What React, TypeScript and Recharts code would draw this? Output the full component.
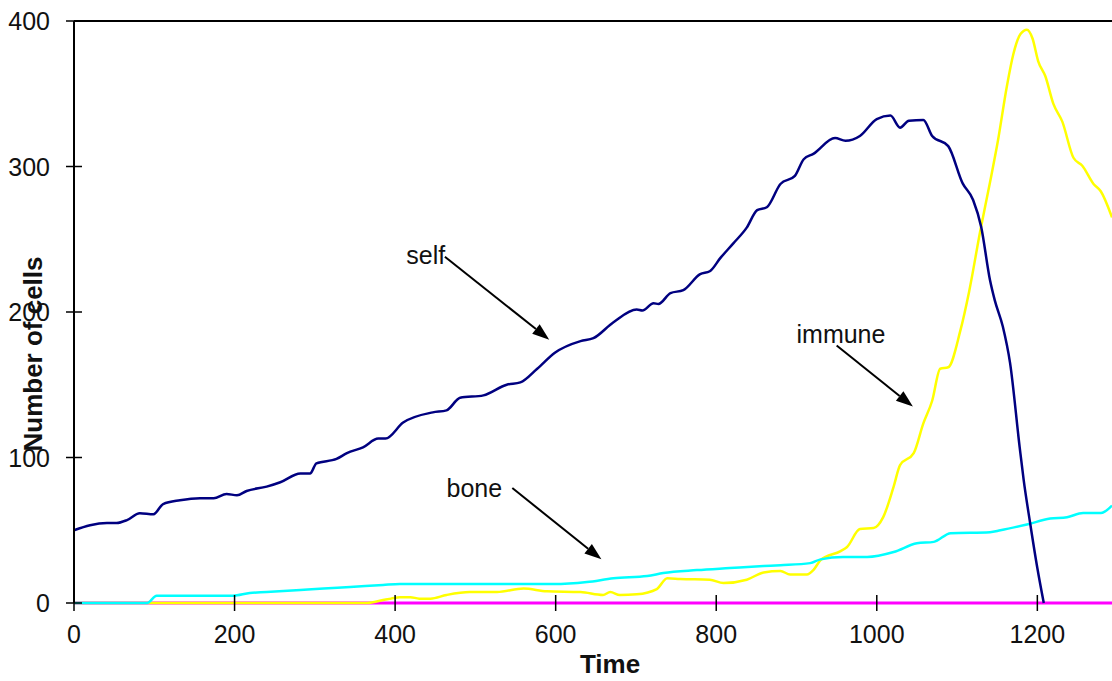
import React from 'react';
import { LineChart, Line, XAxis, YAxis, ReferenceLine, ReferenceDot } from 'recharts';

// axis ticks
const timeTicks = [0, 200, 400, 600, 800, 1000, 1200];
const cellTicks = [0, 100, 200, 300, 400];
const timeMax = 1293;

// series (t = time, v = number of cells)
const selfCells = [
  { t: 0, v: 50 }, { t: 20, v: 53.5 }, { t: 41, v: 55 }, { t: 53, v: 55 }, { t: 66, v: 57 },
  { t: 82, v: 61.7 }, { t: 99, v: 61 }, { t: 111, v: 68 }, { t: 132, v: 70.6 }, { t: 157, v: 72 },
  { t: 174, v: 72 }, { t: 190, v: 75 }, { t: 203, v: 74 }, { t: 215, v: 77 }, { t: 240, v: 80 },
  { t: 257, v: 83 }, { t: 282, v: 89 }, { t: 294, v: 89 }, { t: 302, v: 96 }, { t: 327, v: 99 },
  { t: 340, v: 103 }, { t: 360, v: 107 }, { t: 379, v: 113 }, { t: 388, v: 113 }, { t: 410, v: 124 },
  { t: 447, v: 131 }, { t: 464, v: 132.4 }, { t: 481, v: 141 }, { t: 510, v: 142.7 }, { t: 539, v: 150 },
  { t: 556, v: 151.6 }, { t: 577, v: 161 }, { t: 599, v: 172 }, { t: 631, v: 180 }, { t: 647, v: 182 },
  { t: 672, v: 193 }, { t: 701, v: 201.7 }, { t: 708, v: 201 }, { t: 722, v: 206 }, { t: 728, v: 205.5 },
  { t: 743, v: 213 }, { t: 759, v: 215 }, { t: 780, v: 226 }, { t: 792, v: 228 }, { t: 805, v: 237 },
  { t: 821, v: 247 }, { t: 838, v: 258 }, { t: 851, v: 270 }, { t: 863, v: 272 }, { t: 880, v: 288 },
  { t: 898, v: 293.6 }, { t: 909, v: 305 }, { t: 921, v: 308.7 }, { t: 948, v: 319.6 }, { t: 961, v: 317.7 },
  { t: 979, v: 321 }, { t: 1000, v: 332.6 }, { t: 1017, v: 335 }, { t: 1029, v: 326.7 }, { t: 1040, v: 331.5 },
  { t: 1058, v: 332 }, { t: 1069, v: 321 }, { t: 1089, v: 314 }, { t: 1107, v: 288.4 }, { t: 1120, v: 277 },
  { t: 1130, v: 258.6 }, { t: 1141, v: 222 }, { t: 1147, v: 208 }, { t: 1157, v: 190 }, { t: 1166, v: 165 },
  { t: 1178, v: 107 }, { t: 1183, v: 84.5 }, { t: 1191, v: 55 }, { t: 1200, v: 24 }, { t: 1208, v: 0 },
];

const immuneCells = [
  { t: 0, v: 0 }, { t: 365, v: 0 }, { t: 385, v: 2 }, { t: 395, v: 3 }, { t: 406, v: 4 },
  { t: 419, v: 4 }, { t: 430, v: 3 }, { t: 444, v: 3 }, { t: 464, v: 5.5 }, { t: 493, v: 7.5 },
  { t: 527, v: 7.5 }, { t: 560, v: 10 }, { t: 589, v: 8 }, { t: 631, v: 7.5 }, { t: 659, v: 5.5 },
  { t: 668, v: 7.5 }, { t: 680, v: 5.5 }, { t: 701, v: 6 }, { t: 726, v: 9.6 }, { t: 739, v: 17 },
  { t: 755, v: 16.5 }, { t: 792, v: 16 }, { t: 809, v: 13.7 }, { t: 838, v: 16 }, { t: 859, v: 21 },
  { t: 880, v: 22 }, { t: 892, v: 19.6 }, { t: 913, v: 19.6 }, { t: 921, v: 22.6 }, { t: 930, v: 29.5 },
  { t: 955, v: 35.7 }, { t: 963, v: 38.5 }, { t: 979, v: 50.8 }, { t: 996, v: 51.5 }, { t: 1008, v: 59 },
  { t: 1021, v: 80 }, { t: 1029, v: 94.7 }, { t: 1046, v: 103 }, { t: 1058, v: 123.5 }, { t: 1069, v: 139 },
  { t: 1079, v: 161 }, { t: 1089, v: 162 }, { t: 1104, v: 187 }, { t: 1115, v: 214 }, { t: 1129, v: 256 },
  { t: 1141, v: 289 }, { t: 1151, v: 318 }, { t: 1162, v: 355 }, { t: 1170, v: 377 }, { t: 1179, v: 391 },
  { t: 1187, v: 394 }, { t: 1194, v: 388 }, { t: 1201, v: 372.5 }, { t: 1210, v: 362 }, { t: 1220, v: 343 },
  { t: 1231, v: 331 }, { t: 1245, v: 306 }, { t: 1256, v: 300.5 }, { t: 1270, v: 288 }, { t: 1279, v: 283 },
  { t: 1293, v: 265 },
];

const boneCells = [
  { t: 0, v: 0 }, { t: 91, v: 0 }, { t: 103, v: 5 }, { t: 198, v: 5 }, { t: 219, v: 6.9 },
  { t: 240, v: 7.5 }, { t: 282, v: 9 }, { t: 311, v: 10 }, { t: 344, v: 11 }, { t: 385, v: 12.4 },
  { t: 406, v: 13 }, { t: 597, v: 13 }, { t: 639, v: 14.4 }, { t: 672, v: 17 }, { t: 714, v: 18.5 },
  { t: 734, v: 20.6 }, { t: 776, v: 22.6 }, { t: 817, v: 24 }, { t: 859, v: 25.4 }, { t: 880, v: 26 },
  { t: 917, v: 27.4 }, { t: 930, v: 30 }, { t: 958, v: 31.6 }, { t: 988, v: 31.6 }, { t: 1021, v: 35 },
  { t: 1050, v: 41 }, { t: 1071, v: 42 }, { t: 1092, v: 48 }, { t: 1141, v: 48.7 }, { t: 1154, v: 50 },
  { t: 1187, v: 54 }, { t: 1216, v: 58 }, { t: 1237, v: 59 }, { t: 1257, v: 61.8 }, { t: 1279, v: 61.8 },
  { t: 1293, v: 67 },
];

const otherCells = [
  { t: 0, v: 0 }, { t: 1293, v: 0 },
];

// annotation labels with their arrows (data coordinates)
const annotations = [
  { label: 'self', textT: 414, textV: 233, fromT: 462, fromV: 238, toT: 592, toV: 181 },
  { label: 'immune', textT: 900, textV: 179, fromT: 950, fromV: 177, toT: 1045, toV: 135 },
  { label: 'bone', textT: 464, textV: 73, fromT: 546, fromV: 79, toT: 657, toV: 30 },
];

const FONT = '"Liberation Sans", Arial, sans-serif';
const AXIS_X = 74;
const AXIS_Y = 603;

const YTick = (p: any) => (
  <g>
    <line x1={AXIS_X - 8} x2={AXIS_X + 8} y1={p.y} y2={p.y} stroke="#000" strokeWidth={1.5} />
    <text x={50} y={p.y} textAnchor="end" dominantBaseline="central" fontSize={25} fontFamily={FONT} fill="#111">
      {p.payload.value}
    </text>
  </g>
);

const XTick = (p: any) => (
  <g>
    <line x1={p.x} x2={p.x} y1={AXIS_Y - 8} y2={AXIS_Y + 8} stroke="#000" strokeWidth={1.5} />
    <text x={p.x} y={643} textAnchor="middle" fontSize={25} fontFamily={FONT} fill="#111">
      {p.payload.value}
    </text>
  </g>
);

const Arrow = (p: any) => {
  const { x1, y1, x2, y2 } = p;
  const ang = Math.atan2(y2 - y1, x2 - x1);
  const len = 17;
  const half = 6;
  const bx = x2 - len * Math.cos(ang);
  const by = y2 - len * Math.sin(ang);
  const pts = `${x2},${y2} ${bx + half * Math.sin(ang)},${by - half * Math.cos(ang)} ${bx - half * Math.sin(ang)},${by + half * Math.cos(ang)}`;
  return (
    <g>
      <line x1={x1} y1={y1} x2={bx} y2={by} stroke="#000" strokeWidth={2} />
      <polygon points={pts} fill="#000" />
    </g>
  );
};

const App = () => {
  return (
    <div style={{ position: 'absolute', left: 0, top: 0, width: 1112, height: 681, background: '#fff' }}>
      <LineChart width={1112} height={681} margin={{ top: 21, right: 0, bottom: 0, left: 0 }}>
        <XAxis
          type="number"
          dataKey="t"
          domain={[0, timeMax]}
          ticks={timeTicks}
          height={78}
          axisLine={false}
          tickLine={false}
          tick={XTick}
          label={{
            content: () => (
              <text x={610} y={673} textAnchor="middle" fontSize={26} fontWeight="bold" fontFamily={FONT} fill="#111">
                Time
              </text>
            ),
          }}
        />
        <YAxis
          type="number"
          dataKey="v"
          domain={[0, 400]}
          ticks={cellTicks}
          width={74}
          axisLine={{ stroke: '#000', strokeWidth: 2 }}
          tickLine={false}
          tick={YTick}
          label={{
            content: () => (
              <text
                x={42}
                y={354}
                transform="rotate(-90, 42, 354)"
                textAnchor="middle"
                fontSize={26}
                fontWeight="bold"
                fontFamily={FONT}
                fill="#111"
              >
                Number of cells
              </text>
            ),
          }}
        />
        <ReferenceLine y={400} stroke="#000" strokeWidth={2} />
        <Line data={otherCells} dataKey="v" type="linear" stroke="#FF00FF" strokeWidth={3} dot={false} isAnimationActive={false} />
        <Line data={immuneCells} dataKey="v" type="monotone" stroke="#FFFF00" strokeWidth={2.5} dot={false} isAnimationActive={false} />
        <Line data={boneCells} dataKey="v" type="monotone" stroke="#00FFFF" strokeWidth={2.5} dot={false} isAnimationActive={false} />
        <Line data={selfCells} dataKey="v" type="monotone" stroke="#000080" strokeWidth={2.5} dot={false} isAnimationActive={false} />
        {annotations.map((a) => (
          <ReferenceLine
            key={`arrow-${a.label}`}
            segment={[{ x: a.fromT, y: a.fromV }, { x: a.toT, y: a.toV }]}
            shape={Arrow}
          />
        ))}
        {annotations.map((a) => (
          <ReferenceDot
            key={`text-${a.label}`}
            x={a.textT}
            y={a.textV}
            r={0}
            shape={(p: any) => (
              <text x={p.cx} y={p.cy} fontSize={25} fontFamily={FONT} fill="#111">
                {a.label}
              </text>
            )}
          />
        ))}
      </LineChart>
    </div>
  );
};

export default App;
